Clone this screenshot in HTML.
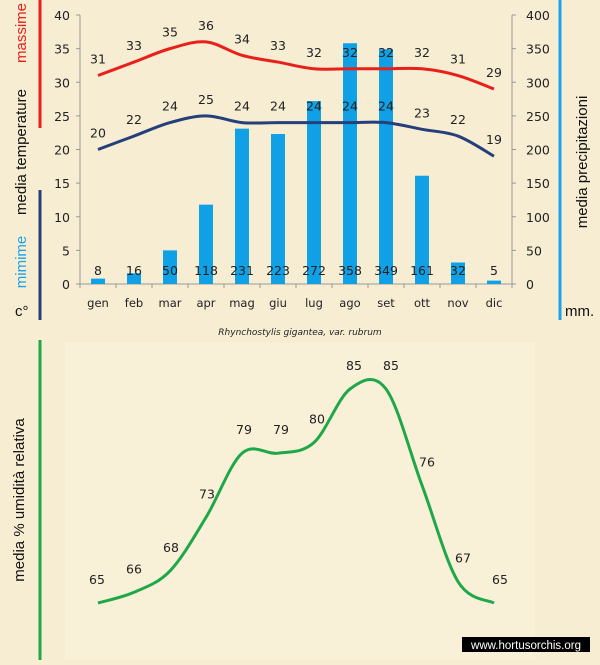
<!DOCTYPE html>
<html><head><meta charset="utf-8"><style>
html,body{margin:0;padding:0;}
body{width:600px;height:660px;background:#f6edd3;overflow:hidden;font-family:"Liberation Sans","DejaVu Sans",sans-serif;}
svg text{font-family:"DejaVu Sans","Liberation Sans",sans-serif;}
svg text.l{font-family:"Liberation Sans","DejaVu Sans",sans-serif;}
</style></head><body>
<svg id="s" width="600" height="660" xmlns="http://www.w3.org/2000/svg">
<rect x="0" y="0" width="600" height="660" fill="#f6edd3"/>
<rect x="65" y="343" width="470" height="317" fill="#f9f0d8"/>
<rect x="38.5" y="0" width="3" height="128" fill="#e8201a"/>
<rect x="38.5" y="190" width="3" height="130" fill="#253f7a"/>
<rect x="558.5" y="0" width="3" height="320" fill="#1aa3e8"/>
<rect x="38.5" y="340" width="3" height="320" fill="#1fa84a"/>
<text class="l" transform="translate(26,33) rotate(-90)" text-anchor="middle" font-size="15" fill="#e8201a">massime</text>
<text class="l" transform="translate(26,152) rotate(-90)" text-anchor="middle" font-size="15" fill="#111">media  temperature</text>
<text class="l" transform="translate(26,262) rotate(-90)" text-anchor="middle" font-size="15" fill="#1aa3e8">mimime</text>
<text class="l" x="15" y="316" font-size="15" fill="#111">c°</text>
<text class="l" transform="translate(587,162) rotate(-90)" text-anchor="middle" font-size="15" fill="#111">media  precipitazioni</text>
<text class="l" x="565" y="316" font-size="15" fill="#111">mm.</text>
<text class="l" transform="translate(24,500) rotate(-90)" text-anchor="middle" font-size="15" fill="#111">media  %  umidità relativa</text>
<text x="300" y="335" text-anchor="middle" font-size="9" font-style="italic" fill="#222">Rhynchostylis gigantea, var. rubrum</text>
<rect x="462" y="637" width="128" height="15" fill="#000"/>
<text class="l" x="526" y="649" text-anchor="middle" font-size="11.5" fill="#fff">www.hortusorchis.org</text>
<g id="g"></g>
</svg>
<script>
var g=document.getElementById('g'),h='';
var xs=[];for(var i=0;i<12;i++)xs.push(98+36*i);
function ty(v){return 284-v*6.725;}
function my(v){return 284-v*0.6725;}
h+='<line x1="80" y1="15" x2="80" y2="284" stroke="#999"/>';
h+='<line x1="512" y1="15" x2="512" y2="284" stroke="#999"/>';
h+='<line x1="76" y1="284" x2="516" y2="284" stroke="#999"/>';
for(var t=0;t<=40;t+=5){var y=ty(t);h+='<line x1="76" y1="'+y+'" x2="80" y2="'+y+'" stroke="#999"/><text x="70" y="'+(y+5)+'" text-anchor="end" font-size="12.5" fill="#222">'+t+'</text>';}
for(var t=0;t<=400;t+=50){var y=my(t);h+='<line x1="512" y1="'+y+'" x2="516" y2="'+y+'" stroke="#999"/><text x="526" y="'+(y+5)+'" font-size="12.5" fill="#222">'+t+'</text>';}
var mn=['gen','feb','mar','apr','mag','giu','lug','ago','set','ott','nov','dic'];
for(var i=0;i<=12;i++){var x=80+36*i;h+='<line x1="'+x+'" y1="284" x2="'+x+'" y2="288" stroke="#999"/>';}
var pr=[8,16,50,118,231,223,272,358,349,161,32,5];
for(var i=0;i<12;i++){h+='<text x="'+xs[i]+'" y="307" text-anchor="middle" font-size="11.5" fill="#222">'+mn[i]+'</text>';
 h+='<rect x="'+(xs[i]-7)+'" y="'+my(pr[i])+'" width="14" height="'+(284-my(pr[i]))+'" fill="#0fa0e6"/>';}
function smooth(p){var d='M'+p[0][0]+','+p[0][1];for(var i=0;i<p.length-1;i++){var p0=p[i-1]||p[i],p1=p[i],p2=p[i+1],p3=p[i+2]||p2;
 d+=' C'+(p1[0]+(p2[0]-p0[0])/6)+','+(p1[1]+(p2[1]-p0[1])/6)+' '+(p2[0]-(p3[0]-p1[0])/6)+','+(p2[1]-(p3[1]-p1[1])/6)+' '+p2[0]+','+p2[1];}return d;}
var mx=[31,33,35,36,34,33,32,32,32,32,31,29],mi=[20,22,24,25,24,24,24,24,24,23,22,19];
h+='<path d="'+smooth(mx.map(function(v,i){return[xs[i],ty(v)]}))+'" fill="none" stroke="#e8201a" stroke-width="3"/>';
h+='<path d="'+smooth(mi.map(function(v,i){return[xs[i],ty(v)]}))+'" fill="none" stroke="#253f7a" stroke-width="3"/>';
for(var i=0;i<12;i++){
 h+='<text x="'+xs[i]+'" y="'+(ty(mx[i])-12)+'" text-anchor="middle" font-size="12.5" fill="#222">'+mx[i]+'</text>';
 h+='<text x="'+xs[i]+'" y="'+(ty(mi[i])-12)+'" text-anchor="middle" font-size="12.5" fill="#222">'+mi[i]+'</text>';
 h+='<text x="'+xs[i]+'" y="275" text-anchor="middle" font-size="12.5" fill="#222">'+pr[i]+'</text>';}
var hu=[65,66,68,73,79,79,80,85,85,76,67,65];
function hy(v){return 603-(v-65)*10.7;}
h+='<path d="'+smooth(hu.map(function(v,i){return[xs[i],hy(v)]}))+'" fill="none" stroke="#1fa84a" stroke-width="3"/>';
var lx=[97,134,171,207,244,281,317,354,391,427,463,500];
for(var i=0;i<12;i++){h+='<text x="'+lx[i]+'" y="'+(hy(hu[i])-19)+'" text-anchor="middle" font-size="12.5" fill="#222">'+hu[i]+'</text>';}
g.innerHTML=h;
</script>
</body></html>
